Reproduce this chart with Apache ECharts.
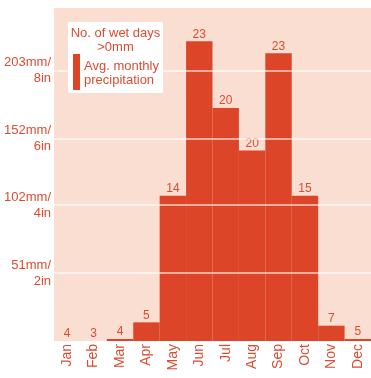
<!DOCTYPE html>
<html>
<head>
<meta charset="utf-8">
<script src="https://cdn.jsdelivr.net/npm/echarts@6/dist/echarts.min.js"></script>
<style>
  html, body { margin: 0; padding: 0; background: #ffffff; }
  #chart { width: 371px; height: 378px; }
</style>
</head>
<body>
<div id="chart"></div>
<script>
// Monthly climate: average precipitation (mm) and number of wet days (>0mm)
const months = ['Jan', 'Feb', 'Mar', 'Apr', 'May', 'Jun', 'Jul', 'Aug', 'Sep', 'Oct', 'Nov', 'Dec'];
const precipMm = [0, 0, 1.5, 14, 109, 225, 175, 143, 216, 109, 11.5, 1.5];
const wetDays = [4, 3, 4, 5, 14, 23, 20, 20, 23, 15, 7, 5];
const tickMm = [51, 102, 152, 203];
const tickIn = [2, 4, 6, 8];

const RED = '#dc4527';
const TEXT = '#de4b30';
const PANEL = '#f9ded1';
const FONT = '"Liberation Sans", Arial, sans-serif';

const chart = echarts.init(document.getElementById('chart'), null, { renderer: 'canvas' });

chart.setOption({
  animation: false,
  backgroundColor: '#ffffff',
  grid: {
    left: 54, right: 0, top: 8, bottom: 37,
    show: true, backgroundColor: PANEL, borderWidth: 0
  },
  xAxis: {
    type: 'category',
    data: months,
    axisLine: { show: false },
    axisTick: { show: false },
    axisLabel: {
      rotate: 90, margin: 3, color: TEXT,
      fontFamily: FONT, fontSize: 14
    }
  },
  yAxis: {
    type: 'value',
    min: 0, max: 250,
    axisLine: { show: false },
    axisTick: { show: false },
    splitLine: { show: false },
    axisLabel: {
      customValues: tickMm,
      margin: 3, color: TEXT,
      fontFamily: FONT, fontSize: 13, lineHeight: 16,
      formatter: v => {
        const i = tickMm.indexOf(v);
        return i < 0 ? '' : v + 'mm/\n' + tickIn[i] + 'in';
      }
    }
  },
  series: [{
    type: 'bar',
    data: precipMm,
    barCategoryGap: '0%',
    itemStyle: { color: RED },
    label: {
      show: true, position: 'top', distance: 1,
      color: TEXT, fontFamily: FONT, fontSize: 12,
      formatter: p => String(wetDays[p.dataIndex])
    },
    markLine: {
      silent: true,
      symbol: 'none',
      label: { show: false },
      lineStyle: { color: '#ffffff', type: 'solid', width: 1.5, opacity: 0.75 },
      data: tickMm.map(v => ({ yAxis: v }))
    }
  }],
  graphic: [
    {
      type: 'group', left: 68, top: 22, z: 100,
      children: [
        { type: 'rect', z: 100, shape: { x: 0, y: 0, width: 95, height: 71 }, style: { fill: '#ffffff' } },
        { type: 'text', z: 101, x: 47.5, y: 5, style: { text: 'No. of wet days', fill: TEXT, font: '13px ' + FONT, textAlign: 'center' } },
        { type: 'text', z: 101, x: 47.5, y: 19, style: { text: '>0mm', fill: TEXT, font: '13px ' + FONT, textAlign: 'center' } },
        { type: 'rect', z: 101, shape: { x: 5, y: 32, width: 7, height: 36 }, style: { fill: RED } },
        { type: 'text', z: 101, x: 16, y: 38, style: { text: 'Avg. monthly', fill: TEXT, font: '13px ' + FONT } },
        { type: 'text', z: 101, x: 16, y: 52, style: { text: 'precipitation', fill: TEXT, font: '13px ' + FONT } }
      ]
    }
  ]
});
</script>
</body>
</html>
